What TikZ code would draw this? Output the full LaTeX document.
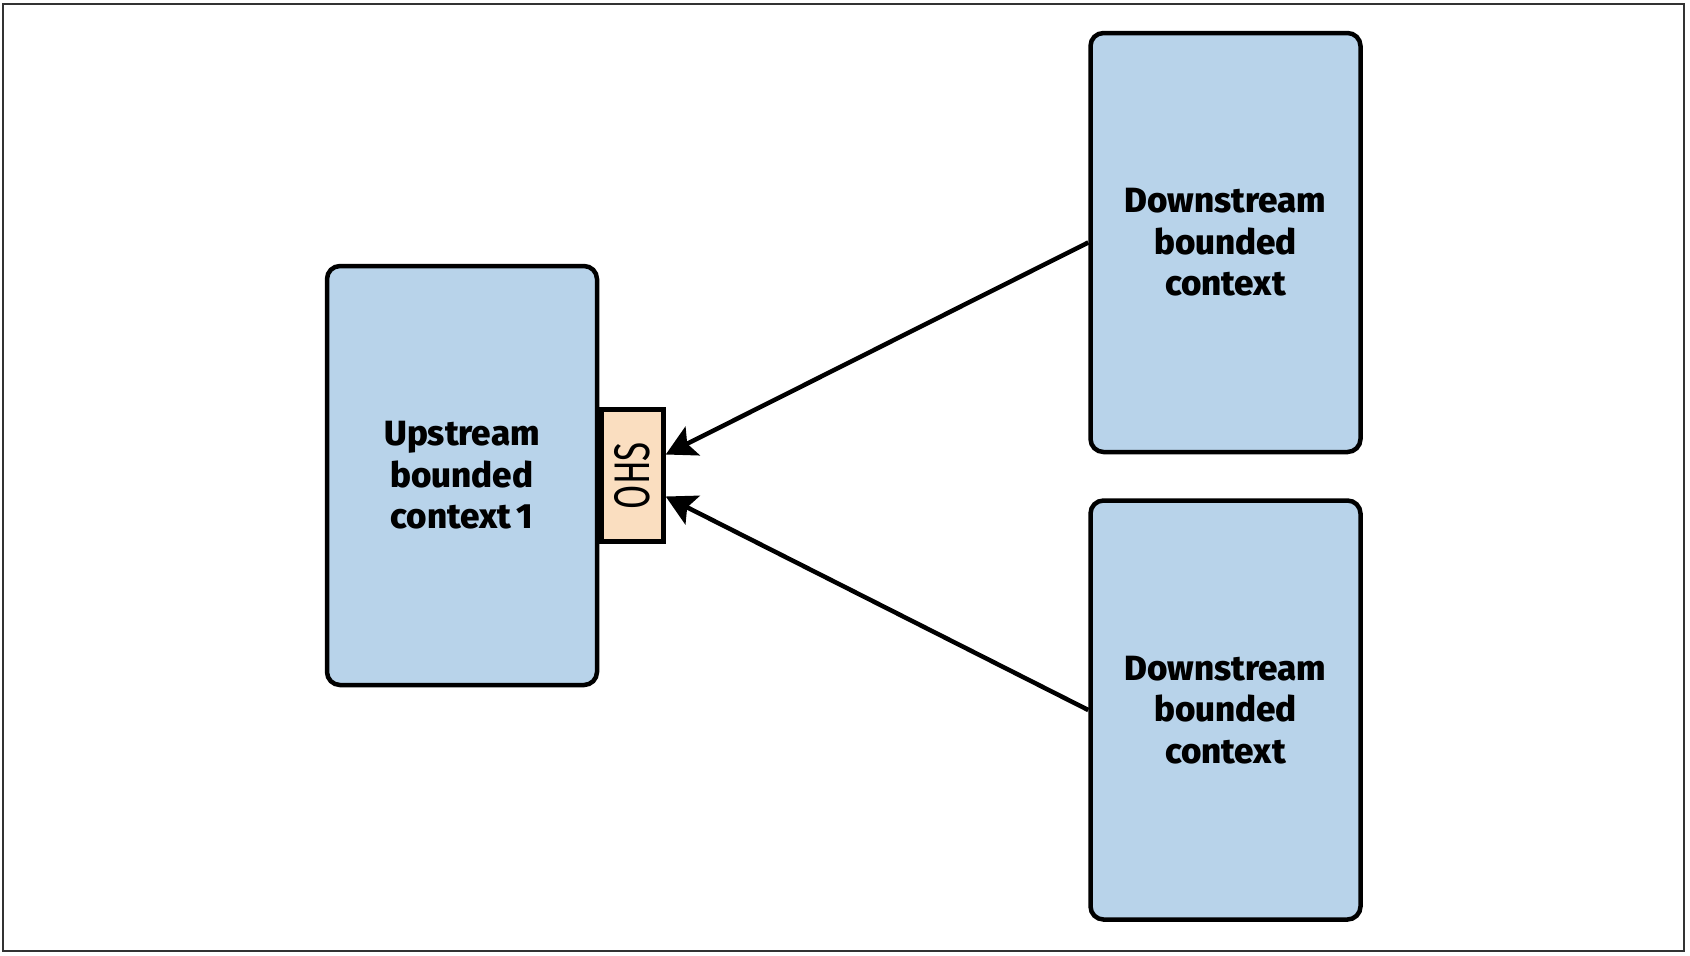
\documentclass[tikz,border=0pt]{standalone}
\usepackage{fontspec}
\setmainfont{Fira Sans}[BoldFont={Fira Sans ExtraBold}]
\newfontfamily\ohsfont{Fira Sans}[FakeStretch=0.7]
\usetikzlibrary{arrows.meta,positioning}
\definecolor{ctxblue}{RGB}{184,211,234}
\definecolor{ohsbeige}{RGB}{250,222,192}
\tikzset{
  context/.style={draw, line width=4.5pt, rounded corners=13pt, fill=ctxblue,
    minimum width=270pt, minimum height=419pt, inner sep=0pt, align=center,
    font=\bfseries\fontsize{35}{41.5}\selectfont},
  ohsbox/.style={draw, line width=4.5pt, fill=ohsbeige, minimum width=62pt,
    minimum height=132pt, inner sep=0pt},
  uses/.style={line width=4.5pt, -{Stealth[length=30pt,width=32pt,inset=6pt]}},
}
\begin{document}
\begin{tikzpicture}[x=1pt,y=1pt]
    \useasboundingbox (0,0) rectangle (1690,-956);
    \draw[line width=1.5pt, black!80] (3,-4) rectangle (1684,-951);

    \node[context] (Up) at (462,-475.5) {Upstream\\bounded\\context\,1};
    \node[ohsbox, anchor=west] (OHS) at (Up.east)
      {\rotatebox{90}{\ohsfont\fontsize{50}{50}\selectfont OHS}};
    \node[context] (Down1) at (1225.5,-242.5) {Downstream\\bounded\\context};
    \node[context] (Down2) at (1225.5,-710) {Downstream\\bounded\\context};
    \coordinate (In1) at ([yshift=21pt]OHS.east);
    \coordinate (In2) at ([yshift=-21pt]OHS.east);

    \draw[uses] (Down1.west) -- (In1);
    \draw[uses] (Down2.west) -- (In2);
  \end{tikzpicture}
\end{document}
